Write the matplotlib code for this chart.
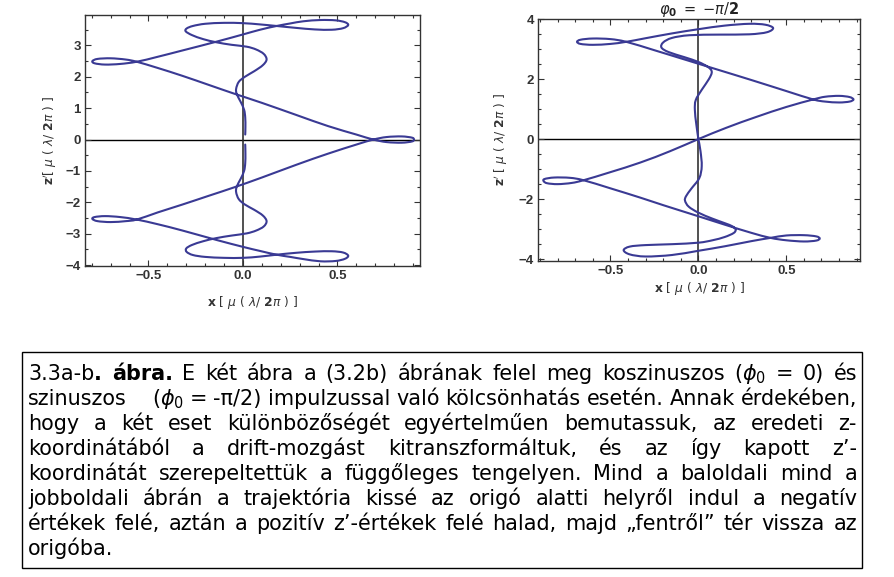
import numpy as np
import matplotlib
matplotlib.use("Agg")
import matplotlib.pyplot as plt
from matplotlib.patches import Rectangle, PathPatch
from matplotlib.path import Path
from matplotlib.ticker import MultipleLocator

# ---------------- data ----------------
# left panel (phi0 = 0): trajectory x, z' (time order)
left_x = [0.012, 0.013, 0.012, 0.006, -0.012, -0.033, -0.036, -0.022, 0.01, 0.06, 0.105, 0.125, 0.11, 0.07, 0.02,
          -0.06, -0.14, -0.21, -0.27, -0.3, -0.298, -0.265, -0.2, -0.1, 0.0, 0.09, 0.178, 0.28, 0.38, 0.47, 0.53,
          0.557, 0.54, 0.49, 0.41, 0.32, 0.25, 0.178, 0.09, 0.0, -0.14, -0.32, -0.45, -0.562, -0.65, -0.73, -0.785,
          -0.797, -0.77, -0.7, -0.62, -0.562, -0.45, -0.32, -0.18, -0.05, 0.1, 0.284, 0.45, 0.6, 0.69,
          0.76, 0.84, 0.895, 0.905, 0.895, 0.84, 0.76, 0.69,
          0.6, 0.45, 0.284, 0.1, -0.05, -0.18, -0.32, -0.45, -0.562, -0.62, -0.7, -0.77, -0.797, -0.785, -0.73,
          -0.65, -0.562, -0.45, -0.32, -0.14, 0.0, 0.09, 0.178, 0.25, 0.32, 0.41, 0.49, 0.54, 0.557, 0.53, 0.47,
          0.38, 0.28, 0.178, 0.09, 0.0, -0.1, -0.2, -0.265, -0.298, -0.303, -0.27, -0.21, -0.14, -0.06, 0.02, 0.07,
          0.11, 0.125, 0.105, 0.06, 0.01, -0.022, -0.036, -0.033, -0.012, 0.006, 0.012, 0.013, 0.012]
left_z = [-0.16, -0.45, -0.75, -1.0, -1.25, -1.5, -1.68, -1.9, -2.07, -2.24, -2.42, -2.6, -2.77, -2.9, -2.99,
          -3.06, -3.14, -3.24, -3.36, -3.47, -3.58, -3.68, -3.74, -3.77, -3.77, -3.73, -3.67, -3.61, -3.57, -3.56, -3.6,
          -3.7, -3.8, -3.87, -3.88, -3.81, -3.74, -3.67, -3.55, -3.42, -3.2, -2.9, -2.7, -2.55, -2.47, -2.44, -2.47,
          -2.53, -2.6, -2.63, -2.6, -2.55, -2.32, -2.07, -1.79, -1.53, -1.21, -0.8, -0.45, -0.16, 0.0,
          0.08, 0.1, 0.06, 0.0, -0.06, -0.1, -0.08, 0.0,
          0.16, 0.43, 0.78, 1.17, 1.47, 1.74, 2.03, 2.28, 2.48, 2.55, 2.59, 2.57, 2.5, 2.43, 2.39,
          2.41, 2.48, 2.64, 2.84, 3.12, 3.35, 3.5, 3.62, 3.7, 3.77, 3.81, 3.8, 3.74, 3.65, 3.55, 3.5,
          3.51, 3.56, 3.62, 3.67, 3.71, 3.72, 3.69, 3.62, 3.54, 3.45, 3.33, 3.2, 3.1, 3.02, 2.96, 2.87,
          2.73, 2.55, 2.37, 2.18, 2.0, 1.84, 1.62, 1.45, 1.2, 0.95, 0.7, 0.4, 0.16]

# right panel (phi0 = -pi/2)
right_x = [0.0, 0.012, 0.019, 0.005, -0.04, -0.07, -0.076, -0.055, 0.0, 0.08, 0.15, 0.195, 0.212, 0.2, 0.15, 0.08,
           0.0, -0.15, -0.3, -0.39, -0.425, -0.39, -0.3, -0.15, 0.0, 0.15, 0.3, 0.41,
           0.5, 0.6, 0.67, 0.69, 0.67, 0.6, 0.5, 0.41,
           0.3, 0.15, 0.0, -0.2, -0.33, -0.5, -0.653,
           -0.73, -0.82, -0.875, -0.88, -0.86, -0.8, -0.72, -0.653,
           -0.5, -0.33, -0.16, 0.0, 0.16, 0.33, 0.5, 0.653,
           0.72, 0.8, 0.86, 0.882, 0.86, 0.8, 0.72, 0.653,
           0.5, 0.3, 0.1, -0.1, -0.25, -0.41,
           -0.5, -0.6, -0.67, -0.69, -0.67, -0.6, -0.5, -0.41,
           -0.3, -0.15, 0.0, 0.15, 0.29, 0.38, 0.425, 0.39, 0.29, 0.12, -0.05, -0.15, -0.2, -0.21, -0.17, -0.08,
           0.0, 0.055, 0.076, 0.06, 0.02, -0.015, -0.02, -0.012, 0.0]
right_z = [0.0, -0.4, -0.9, -1.3, -1.65, -1.9, -2.05, -2.25, -2.45, -2.65, -2.8, -2.91, -3.02, -3.13, -3.26, -3.37,
           -3.45, -3.5, -3.53, -3.58, -3.7, -3.84, -3.91, -3.86, -3.72, -3.57, -3.4, -3.29,
           -3.21, -3.2, -3.24, -3.31, -3.38, -3.41, -3.37, -3.29,
           -3.12, -2.85, -2.57, -2.2, -1.95, -1.64, -1.37,
           -1.29, -1.28, -1.33, -1.4, -1.47, -1.5, -1.46, -1.37,
           -1.1, -0.78, -0.4, 0.0, 0.38, 0.74, 1.07, 1.32,
           1.41, 1.44, 1.4, 1.32, 1.25, 1.22, 1.25, 1.32,
           1.6, 1.97, 2.33, 2.69, 2.96, 3.24,
           3.33, 3.35, 3.31, 3.24, 3.17, 3.14, 3.17, 3.24,
           3.36, 3.52, 3.66, 3.78, 3.84, 3.81, 3.7, 3.56, 3.49, 3.48, 3.46, 3.37, 3.22, 3.05, 2.9, 2.73,
           2.57, 2.4, 2.24, 2.0, 1.65, 1.3, 0.97, 0.5, 0.0]

x_ticks = [-0.5, 0.0, 0.5]
x_ticklabels = ["\u22120.5", "0.0", "0.5"]
left_yticks = [-4, -3, -2, -1, 0, 1, 2, 3]
left_yticklabels = ["\u22124", "\u22123", "\u22122", "\u22121", "0", "1", "2", "3"]
right_yticks = [-4, -2, 0, 2, 4]
right_yticklabels = ["\u22124", "\u22122", "0", "2", "4"]

right_title = r"$\varphi_{\mathbf{0}}\;=\;{-\pi}/\mathbf{2}$"
x_label = r"$\mathbf{x}\ [\ \mu\ (\ \lambda/\ \mathbf{2}\pi\ )\ ]$"
y_label_left = r"$\mathbf{z'}[\ \mu\ (\ \lambda/\ \mathbf{2}\pi\ )\ ]$"
y_label_right = r"$\mathbf{z'}\ [\ \mu\ (\ \lambda/\ \mathbf{2}\pi\ )\ ]$"

PHI0 = r"$\phi_{\mathit{0}}$"
caption_lines = [
    [[("3.3a-b", "n"), (".", "b")], [("ábra.", "b")], "E", "két", "ábra", "a", "(3.2b)", "ábrának", "felel", "meg",
     "koszinuszos", [("(", "n"), (PHI0, "n")], "=", "0)", "és"],
    ["szinuszos", None, [("(", "n"), (PHI0, "n")], "=", "-π/2)", "impulzussal", "való", "kölcsönhatás", "esetén.",
     "Annak", "érdekében,"],
    "hogy a két eset különbözőségét egyértelműen bemutassuk, az eredeti z-".split(),
    "koordinátából a drift-mozgást kitranszformáltuk, és az így kapott z’-".split(),
    "koordinátát szerepeltettük a függőleges tengelyen. Mind a baloldali mind a".split(),
    "jobboldali ábrán a trajektória kissé az origó alatti helyről indul a negatív".split(),
    "értékek felé, aztán a pozitív z’-értékek felé halad, majd „fentről” tér vissza az".split(),
    "origóba.".split(),
]

# ---------------- figure ----------------
W, H = 894, 577
plt.rcParams["mathtext.fontset"] = "dejavusans"
fig = plt.figure(figsize=(W / 100, H / 100), dpi=100)


def px_axes(l, t, r, b):
    return [l / W, 1 - b / H, (r - l) / W, (b - t) / H]


def smooth_path(xs, ys):
    """Smooth (Catmull-Rom style Bezier) path running through the read points."""
    pts = np.column_stack([xs, ys]).astype(float)
    n = len(pts)
    verts = [pts[0]]
    codes = [Path.MOVETO]
    for i in range(n - 1):
        p0 = pts[i - 1] if i > 0 else pts[i]
        p1, p2 = pts[i], pts[i + 1]
        p3 = pts[i + 2] if i + 2 < n else pts[i + 1]
        verts += [p1 + (p2 - p0) / 6.0, p2 - (p3 - p1) / 6.0, p2]
        codes += [Path.CURVE4] * 3
    return Path(verts, codes)


line_color = "#3a3a94"
tick_font = dict(family="Liberation Sans", weight="bold", size=9.5)
lab_col = "#333333"

ax1 = fig.add_axes(px_axes(85, 15, 420, 266))
ax2 = fig.add_axes(px_axes(538, 19, 860, 261))

panels = [
    (ax1, left_x, left_z, (-0.836, 0.937), (-4.03, 3.97), left_yticks, left_yticklabels, y_label_left,
     (-0.079, 0.5), (0.5, -0.11)),
    (ax2, right_x, right_z, (-0.912, 0.919), (-4.06, 4.0), right_yticks, right_yticklabels, y_label_right,
     (-0.0885, 0.5), (0.5, -0.079)),
]
for ax, xs, zs, xlim, ylim, yt, ytl, ylab, ylc, xlc in panels:
    ax.axhline(0, color="black", lw=1.0, zorder=1)
    ax.axvline(0, color="#222222", lw=1.1, zorder=1)
    ax.add_patch(PathPatch(smooth_path(xs, zs), fill=False, edgecolor=line_color, lw=1.5, zorder=3,
                           capstyle="round", joinstyle="round"))
    ax.set_xlim(*xlim)
    ax.set_ylim(*ylim)
    ax.set_xticks(x_ticks)
    ax.set_xticklabels(x_ticklabels, **tick_font, color=lab_col)
    ax.set_yticks(yt)
    ax.set_yticklabels(ytl, **tick_font, color=lab_col)
    ax.xaxis.set_minor_locator(MultipleLocator(0.1))
    ax.yaxis.set_minor_locator(MultipleLocator(0.5))
    ax.tick_params(which="both", direction="in", top=True, right=True, color="#333333", width=0.8)
    ax.tick_params(which="major", length=4, pad=3)
    ax.tick_params(which="minor", length=2.2)
    for s in ax.spines.values():
        s.set_color("#333333")
        s.set_linewidth(1.0)
    ax.set_ylabel(ylab, fontsize=8.8, color=lab_col)
    ax.yaxis.set_label_coords(*ylc)
    ax.set_xlabel(x_label, fontsize=8.8, color=lab_col)
    ax.xaxis.set_label_coords(*xlc)

ax2.set_title(right_title, fontsize=10.5, pad=3.5, color="#222222")

# ---------------- caption box ----------------
fig.add_artist(Rectangle((22 / W, 1 - 568 / H), (862 - 22) / W, (568 - 352) / H, transform=fig.transFigure,
                         fill=False, edgecolor="black", lw=1.0))

renderer = fig.canvas.get_renderer()


def kw_for(style, fs):
    d = dict(fontsize=fs, family="DejaVu Sans", color="black")
    if style == "b":
        d["fontweight"] = "bold"
    return d


def measure(s, style, fs):
    t = fig.text(0, 0, s, **kw_for(style, fs))
    w = t.get_window_extent(renderer=renderer).width
    t.remove()
    return w


def norm_word(wd):
    if wd is None:
        return None
    if isinstance(wd, str):
        return [(wd, "n")]
    return wd


def word_width(wd, fs, sp):
    if wd is None:
        return 2 * sp
    return sum(measure(s, st, fs) for s, st in wd)


def space_width(fs):
    return measure("a a", "n", fs) - measure("aa", "n", fs)


# choose font size so that the tightest line fits the box width
x_left, x_right = 28, 857
ref_fs = 10
sp10 = space_width(ref_fs)
tight = [norm_word(w) for w in caption_lines[6]]
nat10 = sum(word_width(w, ref_fs, sp10) for w in tight) + (len(tight) - 1) * sp10
fs = ref_fs * (x_right - x_left - 22) / nat10
sp = space_width(fs)

base0, step = 380, 25
for i, line in enumerate(caption_lines):
    words = [norm_word(w) for w in line]
    widths = [word_width(w, fs, sp) for w in words]
    if i < len(caption_lines) - 1 and len(words) > 1:
        gap = (x_right - x_left - sum(widths)) / (len(words) - 1)
    else:
        gap = sp
    x = x_left
    yb = 1 - (base0 + i * step) / H
    for wd, ww in zip(words, widths):
        if wd is not None:
            xx = x
            for s, st in wd:
                fig.text(xx / W, yb, s, ha="left", va="baseline", **kw_for(st, fs))
                xx += measure(s, st, fs)
        x += ww + gap

fig.savefig("out.png", dpi=100)
